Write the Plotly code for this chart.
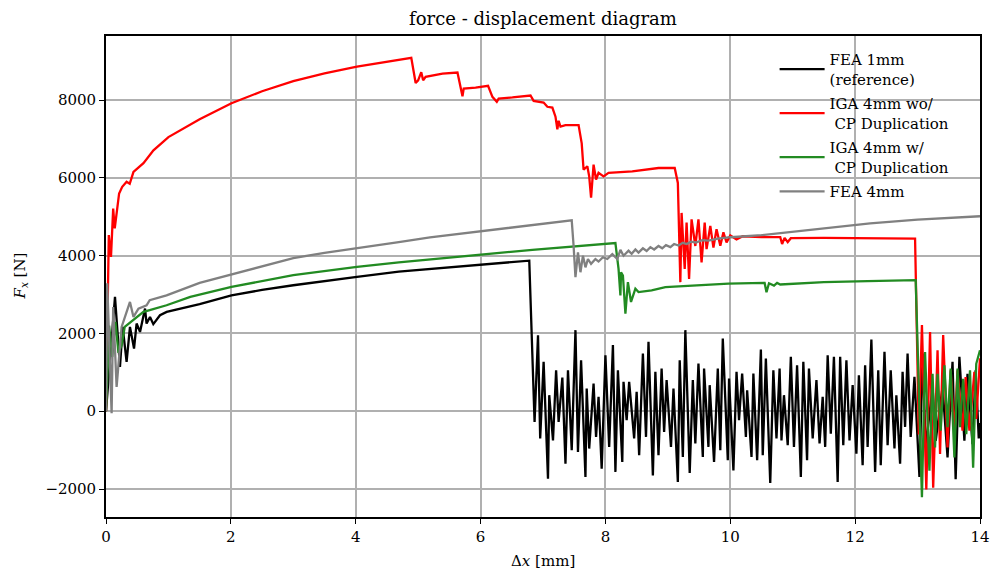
import plotly.graph_objects as go

# ---------------- data ----------------
black_x = [0, 0.06, 0.144, 0.224, 0.267, 0.33, 0.384, 0.449, 0.49, 0.545, 0.625, 0.65, 0.705, 0.758,
           0.865, 0.972, 1.25, 1.5, 2.01, 2.5, 3.0, 3.5, 4.02, 4.69, 5.19, 6.0, 6.78,
           6.865, 6.92, 6.955, 7.01, 7.08, 7.10, 7.16, 7.21, 7.25, 7.31, 7.36, 7.40, 7.46, 7.52, 7.56,
           7.61, 7.68, 7.70, 7.74, 7.81, 7.85, 7.89, 7.94, 8.0, 8.06, 8.12, 8.16, 8.20, 8.27, 8.29,
           8.34, 8.38, 8.46, 8.50, 8.54, 8.60, 8.65, 8.69, 8.76, 8.80, 8.85, 8.90, 8.94, 8.98, 9.05,
           9.09, 9.16, 9.19, 9.24, 9.28, 9.35, 9.40, 9.44, 9.49, 9.56, 9.58, 9.65, 9.67, 9.74, 9.80,
           9.84, 9.88, 9.96, 9.98, 10.05, 10.10, 10.14, 10.19, 10.25, 10.27, 10.34, 10.37, 10.43,
           10.49, 10.52, 10.57, 10.64, 10.69, 10.74, 10.79, 10.82, 10.86, 10.92, 10.97, 11.02, 11.07,
           11.13, 11.17, 11.23, 11.26, 11.32, 11.38, 11.43, 11.48, 11.52, 11.56, 11.61, 11.66, 11.72,
           11.76, 11.81, 11.86, 11.91, 11.96, 12.02, 12.06, 12.12, 12.16, 12.20, 12.26, 12.32, 12.37,
           12.41, 12.47, 12.52, 12.57, 12.63, 12.66, 12.72, 12.76, 12.80, 12.84, 12.89, 12.95, 13.03,
           13.08, 13.13, 13.24, 13.29, 13.40, 13.48, 13.56, 13.61, 13.67, 13.75, 13.80, 13.88, 13.93,
           13.98, 14.0]
black_f = [0, 1300, 2940, 1140, 2170, 1270, 2170, 1610, 2255, 2040, 2640, 2255, 2425, 2240,
           2470, 2555, 2660, 2752, 2980, 3120, 3240, 3350, 3455, 3592, 3660, 3762, 3873,
           -275, 1956, -700, 1270, -1733, 412, -750, 1055, -275, 867, -1350, 1055, -1000, 2085, -1047,
           1313, -1690, 583, -960, 712, -660, 369, -1475, 1441, -918, 1700, -1560, 1055, -1304, 755,
           -232, 755, -700, 500, -1130, 1484, -660, 1785, -1650, 1012, -1130, 1100, -530, 800, -918,
           583, -1820, 1313, -1175, 2085, -1590, 800, -830, 1227, -1175, 1100, -918, 670, -1304, 1100,
           -1000, 1870, -1260, 840, -1520, 1012, -232, 970, -660, 540, -1175, 970, -1260,
           1587, -1130, 1355, -1845, 1055, -700, 1100, -750, 412, -875, 1400, -918, 1184,
           -1690, 1270, -1260, 1100, -700, 800, -830, 369, -918, 1441, -575, 1400, -1820,
           1400, -875, 1313, -750, 670, -1090, 927, -1390, 1184, -918, 1845, -1560, 1055,
           -1390, 1527, -875, 1055, -960, 412, -1350, 1012, -403, 1484, -660, 884, -1690,
           1484, -930, 620, -760, 620, -1190, 1270, -1750, 1400, -760, 965, -845, 1050,
           -700, -300]

red_x = [0, 0.03, 0.045, 0.08, 0.115, 0.14, 0.21, 0.26, 0.33, 0.38, 0.44, 0.6, 0.76, 1.0, 1.24,
         1.5, 2.01, 2.5, 3.0, 3.5, 4.02, 4.5, 4.89, 4.96, 5.00, 5.05, 5.08, 5.12, 5.23, 5.39, 5.63,
         5.68, 5.71, 5.73, 5.92, 6.12, 6.19, 6.26, 6.29, 6.51, 6.80, 6.85, 7.01, 7.07, 7.15, 7.20,
         7.23, 7.25, 7.28, 7.36, 7.57, 7.62, 7.65, 7.71, 7.74, 7.77, 7.81, 7.85, 7.89, 7.97, 8.05,
         8.43, 8.85, 9.11, 9.16, 9.20, 9.22, 9.27, 9.30, 9.34, 9.38, 9.44, 9.49, 9.54, 9.59, 9.62,
         9.68, 9.73, 9.78, 9.84, 9.89, 9.94, 10.0, 10.1, 10.2, 10.5, 10.8, 10.83, 10.87, 10.92,
         10.97, 11.5, 12.0, 12.5, 12.96, 13.02, 13.07, 13.14, 13.20, 13.25, 13.32, 13.36, 13.41,
         13.48, 13.53, 13.59, 13.64, 13.72, 13.77, 13.83, 13.91, 13.94, 14.0]
red_f = [0, 3370, 4530, 3970, 5210, 4700, 5600, 5770, 5900, 5850, 6155, 6380, 6710, 7050, 7280,
         7510, 7920, 8230, 8490, 8690, 8860, 8990, 9090, 8440, 8510, 8720, 8510, 8600, 8640, 8680, 8710,
         8340, 8100, 8300, 8320, 8370, 8085, 7960, 8040, 8070, 8120, 7980, 7940, 7830, 7810, 7575,
         7250, 7470, 7320, 7360, 7360, 6890, 6210, 6300, 6040, 5490, 6340, 5960, 6130, 6040, 6130,
         6170, 6255, 6255, 5870, 3320, 5100, 3660, 4850, 3400, 4935, 4250, 4935, 3830, 4850, 4170,
         4765, 4210, 4680, 4255, 4600, 4340, 4520, 4420, 4500, 4480, 4480, 4300, 4460, 4350,
         4450, 4460, 4450, 4445, 4440, -600, 2215, -2010, 2040, -1965, 1570, -1100, 1960,
         -930, 1050, -590, 1050, -500, 880, -500, 1010, -200, 1360]

green_x = [0, 0.05, 0.1, 0.15, 0.2, 0.25, 0.30, 0.44, 0.6, 0.7, 0.97, 1.35, 2.01, 3.0, 4.02, 4.69,
           5.19, 6.0, 6.83, 8.16, 8.21, 8.24, 8.25, 8.28, 8.32, 8.36, 8.41, 8.48, 8.53, 8.74, 8.96,
           9.97, 10.55, 10.58, 10.62, 10.7, 10.75, 10.8, 11.5, 12.2, 12.97, 13.07, 13.12, 13.19,
           13.24, 13.28, 13.32, 13.37, 13.43, 13.48, 13.53, 13.59, 13.64, 13.68, 13.73, 13.78, 13.84,
           13.89, 13.94, 14.0]
green_f = [0, 2200, 1400, 2300, 1500, 1700, 2170, 2340, 2555, 2600, 2726, 2940, 3197, 3498, 3712, 3830,
           3905, 4030, 4150, 4324, 3660, 2980, 3575, 3490, 2510, 3320, 2810, 3150, 3065, 3110, 3190,
           3280, 3300, 3060, 3290, 3230, 3300, 3260, 3320, 3345, 3370, -2210, 1525, -1530,
           965, -930, 965, -500, 1180, -410, 1095, -1190, 1095, -410, 836, -590, 1050,
           -1450, 1220, 1570]

gray_x = [0, 0.02, 0.09, 0.115, 0.17, 0.25, 0.384, 0.44, 0.52, 0.65, 0.70, 0.97, 1.5, 2.01, 2.57,
          3.0, 3.5, 4.02, 4.69, 5.19, 6.0, 7.0, 7.46, 7.49, 7.52, 7.56, 7.60, 7.64, 7.68, 7.72, 7.77,
          7.84, 7.89, 7.96, 8.03, 8.11, 8.19, 8.24, 8.29, 8.37, 8.42, 8.48, 8.53, 8.6, 8.66, 8.72,
          8.78, 8.85, 8.91, 8.97, 9.04, 9.1, 9.17, 9.24, 9.3, 9.37, 9.45, 9.55, 9.65, 9.8, 10.0,
          10.5, 11.0, 11.6, 12.24, 13.0, 14.0]
gray_f = [0, 3290, -50, 2680, 625, 2170, 2810, 2425, 2640, 2726, 2855, 2980, 3300, 3520, 3760,
          3940, 4070, 4185, 4350, 4470, 4633, 4826, 4911, 4255, 3450, 4085, 3575, 4000, 3700, 3915, 3790,
          3915, 3850, 3960, 3915, 4040, 3915, 4150, 4000, 4130, 4050, 4160, 4080, 4190, 4120, 4220,
          4160, 4250, 4190, 4270, 4220, 4300, 4260, 4330, 4300, 4360, 4340, 4400, 4390, 4440, 4475,
          4530, 4620, 4730, 4830, 4930, 5015]

series_names = ["FEA 1mm<br>(reference)", "IGA 4mm wo/<br>\u00a0CP Duplication",
                "IGA 4mm w/<br>\u00a0CP Duplication", "FEA 4mm"]
series_colors = ["black", "red", "forestgreen", "gray"]
x_ticks = [0, 2, 4, 6, 8, 10, 12, 14]
y_ticks = [-2000, 0, 2000, 4000, 6000, 8000]

FONT = "DejaVu Serif"

fig = go.Figure()
for i, (xs, fs, name, col) in enumerate(zip([black_x, red_x, green_x, gray_x],
                                            [black_f, red_f, green_f, gray_f],
                                            series_names, series_colors)):
    fig.add_trace(go.Scatter(x=xs, y=fs, mode="lines", name=name, legendgroup=f"g{i}",
                             line=dict(color=col, width=2.3)))

axis_common = dict(showline=True, mirror=True, linecolor="black", linewidth=1.7,
                   ticks="outside", ticklen=5, tickwidth=1.4, tickcolor="black",
                   showgrid=True, gridcolor="#b0b0b0", gridwidth=2, zeroline=False,
                   tickfont=dict(family=FONT, size=15, color="black"))

fig.update_layout(
    width=992, height=572,
    margin=dict(l=106, r=12, t=36, b=55, autoexpand=False),
    paper_bgcolor="white", plot_bgcolor="white",
    font=dict(family=FONT, size=15, color="black"),
    title=dict(text="force - displacement diagram", x=0.5, xref="paper", xanchor="center",
               y=1 - 18.5 / 572, yref="container", yanchor="middle",
               font=dict(family=FONT, size=18, color="black")),
    xaxis=dict(range=[0, 14], tickvals=x_ticks, **axis_common),
    yaxis=dict(range=[-2720, 9650], tickvals=y_ticks, **axis_common),
    legend=dict(x=0.765, y=0.985, xanchor="left", yanchor="top", bgcolor="rgba(0,0,0,0)",
                borderwidth=0, font=dict(family=FONT, size=15, color="black"),
                traceorder="grouped", tracegroupgap=2, itemwidth=45),
    showlegend=True,
)

fig.add_annotation(text="\u0394<i>x</i> [mm]", x=0.5, xref="paper", y=0, yref="paper",
                   yshift=-44, yanchor="middle", showarrow=False,
                   font=dict(family=FONT, size=15, color="black"))
fig.add_annotation(text="<i>F</i><sub><i>x</i></sub> [N]", x=0, xref="paper", xshift=-86,
                   y=0.5, yref="paper", textangle=-90, showarrow=False, xanchor="center",
                   yanchor="middle", font=dict(family=FONT, size=15, color="black"))

fig.write_html("out.html", config={"displayModeBar": False},
               post_script="document.body.style.margin='0';")
